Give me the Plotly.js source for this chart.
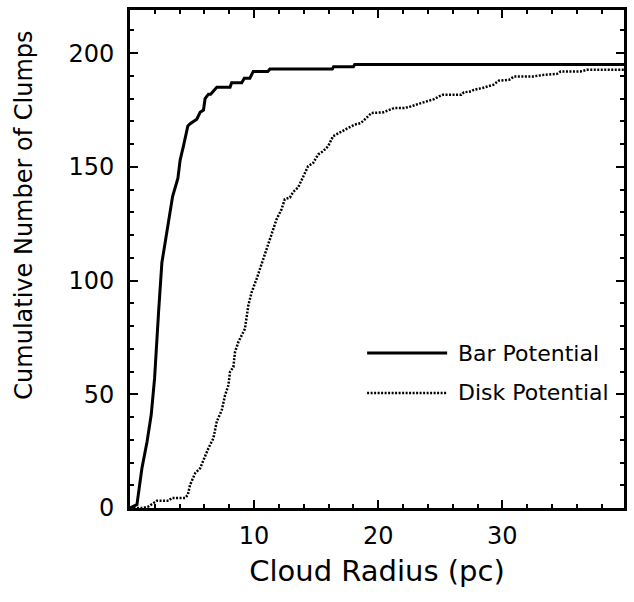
<!DOCTYPE html>
<html>
<head>
<meta charset="utf-8">
<script src="https://cdn.plot.ly/plotly-3.0.1.min.js"></script>
<style>html,body{margin:0;padding:0;background:#fff;}#chart{width:634px;height:602px;}</style>
</head>
<body>
<div id="chart"></div>
<script>
// Bar potential cumulative curve (cloud radius in pc, cumulative number of clumps)
const barRadius = [0, 0.56, 0.96, 1.37, 1.71, 1.98, 2.3, 2.57, 2.84, 3.24, 3.43, 3.86, 4.04, 4.3, 4.66, 4.85, 5.38, 5.65, 5.92, 6.05, 6.32, 6.5, 6.99, 8.06, 8.19, 9.0, 9.21, 9.66, 9.93, 11.1, 11.27, 16.3, 16.4, 18.0, 18.1, 40];
const barCount  = [0, 1.5, 17.5, 29, 41, 57, 86, 108, 117, 130, 137, 145, 153, 159, 168, 169, 171, 174, 175, 180, 182, 182, 185, 185, 187, 187, 189, 189, 192, 192, 193, 193, 194, 194, 195, 195];

// Disk potential cumulative curve
const diskRadius = [0, 1.0, 1.5, 2.04, 2.17, 3.11, 3.37, 4.44, 4.66, 4.84, 5.25, 5.65, 5.92, 6.32, 6.72, 6.99, 7.39, 7.66, 7.93, 8.06, 8.33, 8.46, 8.73, 9.0, 9.26, 9.53, 9.8, 10.2, 10.47, 10.74, 11.0, 11.27, 11.54, 11.81, 12.21, 12.47, 12.88, 13.15, 13.55, 13.82, 14.35, 14.76, 15.16, 15.56, 15.96, 16.36, 17.03, 17.57, 18.1, 18.6, 19.04, 19.44, 20.4, 20.9, 21.3, 22.1, 22.65, 23.3, 24.0, 24.5, 24.9, 25.2, 26.7, 26.9, 27.5, 27.7, 28.4, 28.9, 29.3, 29.7, 30.55, 30.95, 32.5, 33.4, 34.4, 34.7, 36.3, 36.8, 40];
const diskCount  = [0, 0, 0.7, 2.9, 3.2, 3.2, 4.4, 4.4, 5.8, 10.2, 15.3, 17.5, 21.2, 26.3, 30.7, 38, 43, 49.6, 54, 59.9, 62, 68.6, 73, 75.9, 78.8, 89, 94.9, 100.7, 105.1, 109.5, 113.9, 118.2, 122.6, 127, 131.4, 135.8, 136.5, 139, 141, 144, 150.3, 151.8, 155.5, 156.9, 159.1, 163.5, 165.7, 167.1, 168.6, 169.3, 171.5, 173.7, 174, 175.2, 175.9, 175.9, 176.6, 177.8, 178.8, 179.8, 181, 181.7, 181.7, 182.8, 183.2, 183.9, 184.7, 185.7, 186.2, 187.9, 188.3, 189.8, 189.8, 190.5, 190.9, 192, 192, 192.7, 192.7];

// Tick labels
const xTickVals = [0, 10, 20, 30, 40];
const xTickText = ['', '10', '20', '30', ''];
const yTickVals = [0, 50, 100, 150, 200];
const yTickText = ['0', '50', '100', '150', '200'];

const seriesNames = ['Bar Potential', 'Disk Potential'];
const xTitle = 'Cloud Radius (pc)';
const yTitle = 'Cumulative Number of Clumps';

const FONT = 'DejaVu Sans, Liberation Sans, sans-serif';

const traces = [
  {x: barRadius, y: barCount, mode: 'lines', name: seriesNames[0], line: {color: '#000', width: 3}, showlegend: false},
  {x: diskRadius, y: diskCount, mode: 'lines', name: seriesNames[1], line: {color: '#000', width: 2.5, dash: '2px,1.5px'}, showlegend: false}
];

const axisCommon = {
  showgrid: false, zeroline: false, showline: true, linecolor: '#000', linewidth: 3,
  mirror: 'ticks', ticks: 'inside', tickcolor: '#000', tickwidth: 2, ticklen: 8,
  tickfont: {family: FONT, size: 24, color: '#000'}, fixedrange: true
};

const layout = {
  width: 634, height: 602,
  margin: {l: 130, r: 10, t: 10, b: 94},
  paper_bgcolor: '#fff', plot_bgcolor: '#fff',
  showlegend: false,
  xaxis: Object.assign({}, axisCommon, {
    range: [0, 39.8], tickmode: 'array', tickvals: xTickVals, ticktext: xTickText,
    ticklabelstandoff: 4,
    minor: {tickmode: 'linear', tick0: 0, dtick: 2, ticks: 'inside', ticklen: 4, tickwidth: 2, tickcolor: '#000'},
    title: {text: xTitle, font: {family: FONT, size: 29, color: '#000'}, standoff: 12}
  }),
  yaxis: Object.assign({}, axisCommon, {
    range: [0, 219], tickmode: 'array', tickvals: yTickVals, ticktext: yTickText,
    ticklabelstandoff: 8,
    minor: {tickmode: 'linear', tick0: 0, dtick: 10, ticks: 'inside', ticklen: 4, tickwidth: 2, tickcolor: '#000'}
  }),
  shapes: [
    {type: 'line', xref: 'paper', yref: 'paper', x0: 0.480, x1: 0.642, y0: 0.311, y1: 0.311, line: {color: '#000', width: 3}},
    {type: 'line', xref: 'paper', yref: 'paper', x0: 0.480, x1: 0.642, y0: 0.231, y1: 0.231, line: {color: '#000', width: 2.5, dash: '2px,1.5px'}}
  ],
  annotations: [
    {text: seriesNames[0], xref: 'paper', yref: 'paper', x: 0.660, y: 0.311, xanchor: 'left', yanchor: 'middle', showarrow: false, font: {family: FONT, size: 22, color: '#000'}},
    {text: seriesNames[1], xref: 'paper', yref: 'paper', x: 0.660, y: 0.231, xanchor: 'left', yanchor: 'middle', showarrow: false, font: {family: FONT, size: 22, color: '#000'}},
    {text: yTitle, xref: 'paper', yref: 'paper', x: -0.2136, y: 0.588, xanchor: 'center', yanchor: 'middle', textangle: -90, showarrow: false, font: {family: FONT, size: 24, color: '#000'}}
  ]
};

Plotly.newPlot('chart', traces, layout, {displayModeBar: false, staticPlot: true});
</script>
</body>
</html>
